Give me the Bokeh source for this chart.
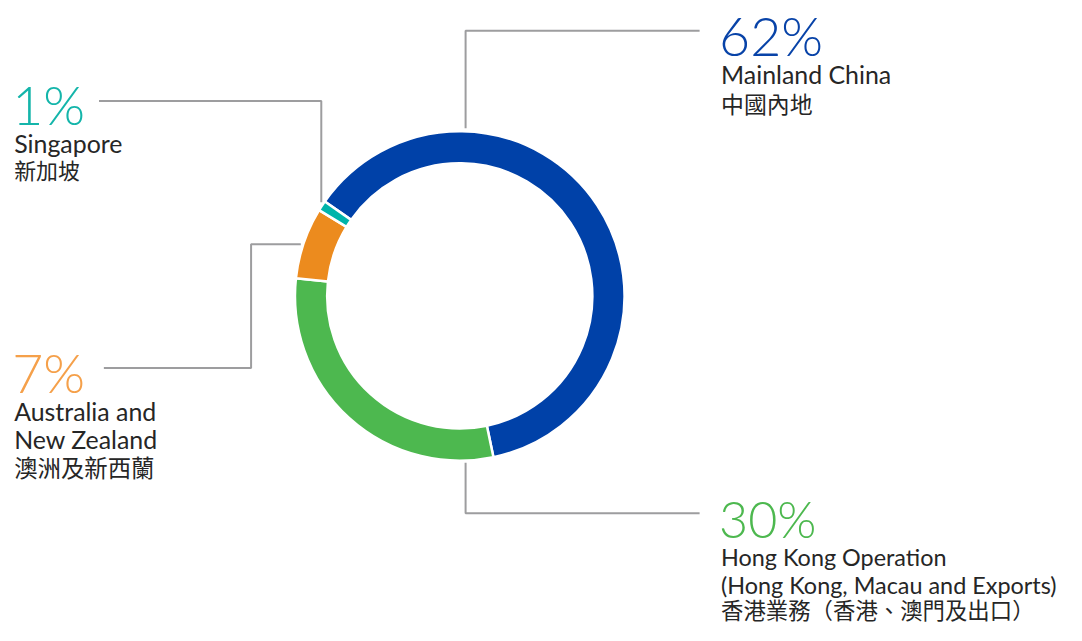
from bokeh.plotting import figure
from bokeh.models import Range1d
from bokeh.core.properties import value
from bokeh.embed import file_html
from bokeh.resources import INLINE
import numpy as np

# ---- data ----
regions_zh = ["中國內地", "香港業務（香港、澳門及出口）", "澳洲及新西蘭", "新加坡"]
shares = [62, 30, 7, 1]
pct_labels = ["62%", "30%", "7%", "1%"]
en_lines = [["Mainland China"],
            ["Hong Kong Operation", "(Hong Kong, Macau and Exports)"],
            ["Australia and", "New Zealand"],
            ["Singapore"]]
seg_colors = ["#0041A8", "#4DB84F", "#EC8B1E", "#00B4AA"]
pct_colors = ["#0843A8", "#4DB84F", "#F5A04A", "#14B5AA"]

# ---- layout (reference-pixel space, scaled to fit) ----
REF_W, REF_H = 1082, 641
H = 625
S = H / REF_H
W = 1066
p = figure(width=W, height=H, x_range=Range1d(0, W / S), y_range=Range1d(-REF_H, 0),
           output_backend="svg", toolbar_location=None, tools="",
           x_axis_location=None, y_axis_location=None, min_border=0,
           outline_line_color=None, background_fill_color="white", border_fill_color="white")
p.grid.visible = False

def fs(px):
    return f"{px * S:.1f}px"

CX, CY = 471, -303
R_IN, R_OUT = 136, 169
START = np.deg2rad(145.0)
frac = np.array(shares, dtype=float) / sum(shares)
cum = np.concatenate([[0.0], np.cumsum(frac)])
starts = START - 2 * np.pi * cum[:-1]
ends = START - 2 * np.pi * cum[1:]
p.annular_wedge(x=CX, y=CY, inner_radius=R_IN, outer_radius=R_OUT,
                start_angle=starts, end_angle=ends, direction="clock",
                fill_color=seg_colors, line_color="white", line_width=2.5)

# leader lines (layout positions)
lead_x = [[477, 477, 717], [477, 477, 717], [106, 257, 257, 308], [101, 329, 329]]
lead_y = [[-131, -31, -31], [-474, -526, -526], [-377, -377, -250, -250], [-103, -103, -207]]
p.multi_line(xs=lead_x, ys=lead_y, line_color="#9D9D9F", line_width=2)

# label layout: x, centre of percent digits, of first English line, of Chinese line,
# and font sizes (percent, English, Chinese)
anchors = [(737, 35.5, 75.5, 105.5, 55, 25.5, 23.5),
           (737, 531, 571, 624.5, 51.5, 24, 23),
           (12, 381, 421, 478.5, 55, 25.5, 24),
           (12, 106, 146.5, 173.5, 55, 25.5, 22.5)]
EN_STEP = 28.6
TXT = "#262626"

for i in range(len(shares)):
    ax, yp, ye, yz, fp, fe, fz = anchors[i]
    p.text(x=[ax], y=[-yp], text=[pct_labels[i]], text_font=value("Lato Light"),
           text_font_size=fs(fp), text_color=pct_colors[i], text_baseline="middle")
    ys = [-(ye + EN_STEP * k) for k in range(len(en_lines[i]))]
    p.text(x=[ax + 2] * len(ys), y=ys, text=en_lines[i], text_font=value("Lato"),
           text_font_size=fs(fe), text_color=TXT, text_baseline="middle")
    p.text(x=[ax + 2], y=[-yz], text=[regions_zh[i]], text_font=value("Noto Sans CJK TC"),
           text_font_size=fs(fz), text_color=TXT, text_baseline="middle")

open("out.html", "w").write(file_html(p, INLINE))
